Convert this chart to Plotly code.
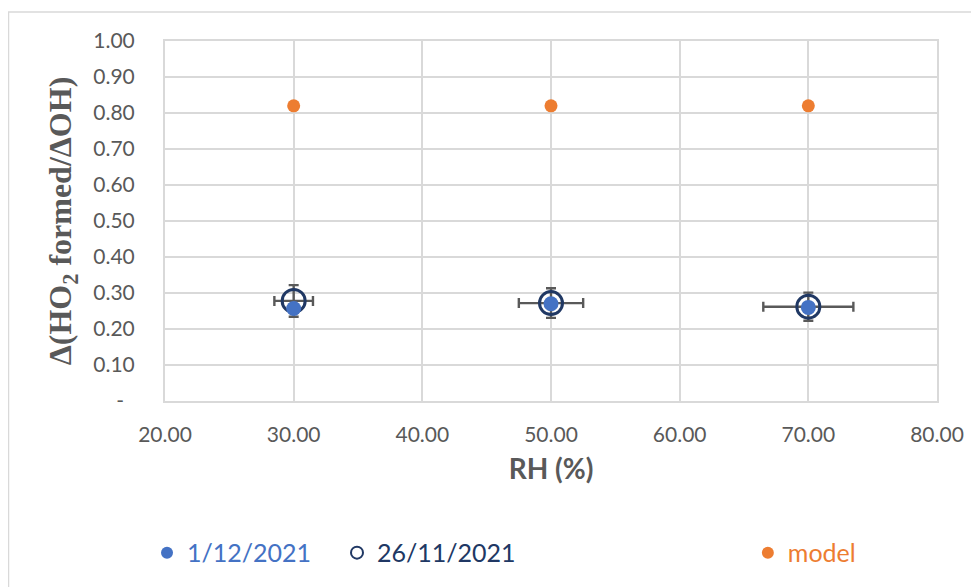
import plotly.graph_objects as go

rh = [30, 50, 70]
series_1dec = [0.257, 0.27, 0.26]
series_26nov = [0.278, 0.272, 0.262]
err_y_26nov = [0.044, 0.041, 0.039]
err_x_26nov = [1.5, 2.5, 3.5]
model = [0.82, 0.82, 0.82]
y_ticks = [0, 0.1, 0.2, 0.3, 0.4, 0.5, 0.6, 0.7, 0.8, 0.9, 1.0]
y_ticktext = ["-\u00a0\u00a0", "0.10", "0.20", "0.30", "0.40", "0.50", "0.60", "0.70", "0.80", "0.90", "1.00"]
x_ticks = [20, 30, 40, 50, 60, 70, 80]
x_ticktext = ["20.00", "30.00", "40.00", "50.00", "60.00", "70.00", "80.00"]

BLUE = "#4472C4"
NAVY = "#203864"
ORANGE = "#ED7D31"
GRAY = "#595959"
GRID = "#d9d9d9"
FONT = "Lato, 'Open Sans', sans-serif"

fig = go.Figure()
fig.add_trace(go.Scatter(
    x=rh, y=series_26nov, mode="markers", name="26/11/2021",
    marker=dict(color="rgba(0,0,0,0)", size=23, line=dict(color=NAVY, width=3)),
    error_y=dict(type="data", array=err_y_26nov, color=GRAY, thickness=2.4, width=5),
    error_x=dict(type="data", array=err_x_26nov, color=GRAY, thickness=2.4, width=5),
    legend="legend2",
))
fig.add_trace(go.Scatter(
    x=rh, y=series_1dec, mode="markers", name="1/12/2021",
    marker=dict(color=BLUE, size=15), legend="legend",
))
fig.add_trace(go.Scatter(
    x=rh, y=model, mode="markers", name="model",
    marker=dict(color=ORANGE, size=13), legend="legend3",
))

legend_common = dict(orientation="h", yanchor="middle", xanchor="left",
                     bgcolor="rgba(0,0,0,0)", itemsizing="constant",
                     font=dict(family=FONT, size=25))
fig.update_layout(
    width=971, height=579,
    margin=dict(l=157, r=42, t=33, b=185),
    paper_bgcolor="white", plot_bgcolor="white",
    font=dict(family=FONT, color=GRAY),
    showlegend=True,
    legend=dict(**legend_common, x=-0.0233, y=-0.418, font_color=BLUE),
    legend2=dict(**legend_common, x=0.2228, y=-0.418, font_color=NAVY),
    legend3=dict(**legend_common, x=0.755, y=-0.418, font_color=ORANGE),
    xaxis=dict(
        range=[20, 80], tickvals=x_ticks, ticktext=x_ticktext,
        showgrid=True, gridcolor=GRID, gridwidth=2,
        showline=True, linecolor=GRID, linewidth=2, mirror=True,
        zeroline=False, ticks="", ticklabelstandoff=14,
        tickfont=dict(family=FONT, size=21, color=GRAY),
        title=dict(text="<b>RH (%)</b>", font=dict(family=FONT, size=28, color=GRAY), standoff=14),
    ),
    yaxis=dict(
        range=[0, 1.0], tickvals=y_ticks, ticktext=y_ticktext,
        showgrid=True, gridcolor=GRID, gridwidth=2,
        showline=True, linecolor=GRID, linewidth=2, mirror=True,
        zeroline=False, ticks="", ticklabelstandoff=24,
        tickfont=dict(family=FONT, size=21, color=GRAY),
        title=dict(text="<b>Δ(HO<sub>2</sub> formed/ΔOH)</b>",
                   font=dict(family="Liberation Serif, Times New Roman, serif", size=32, color=GRAY),
                   standoff=12),
    ),
)
fig.add_shape(type="rect", xref="paper", yref="paper",
              x0=-156.5 / 772, x1=1.1, y0=-0.7, y1=1 + 29 / 361,
              line=dict(color=GRID, width=1.5), fillcolor="rgba(0,0,0,0)", layer="below")
fig.write_html("out.html")
